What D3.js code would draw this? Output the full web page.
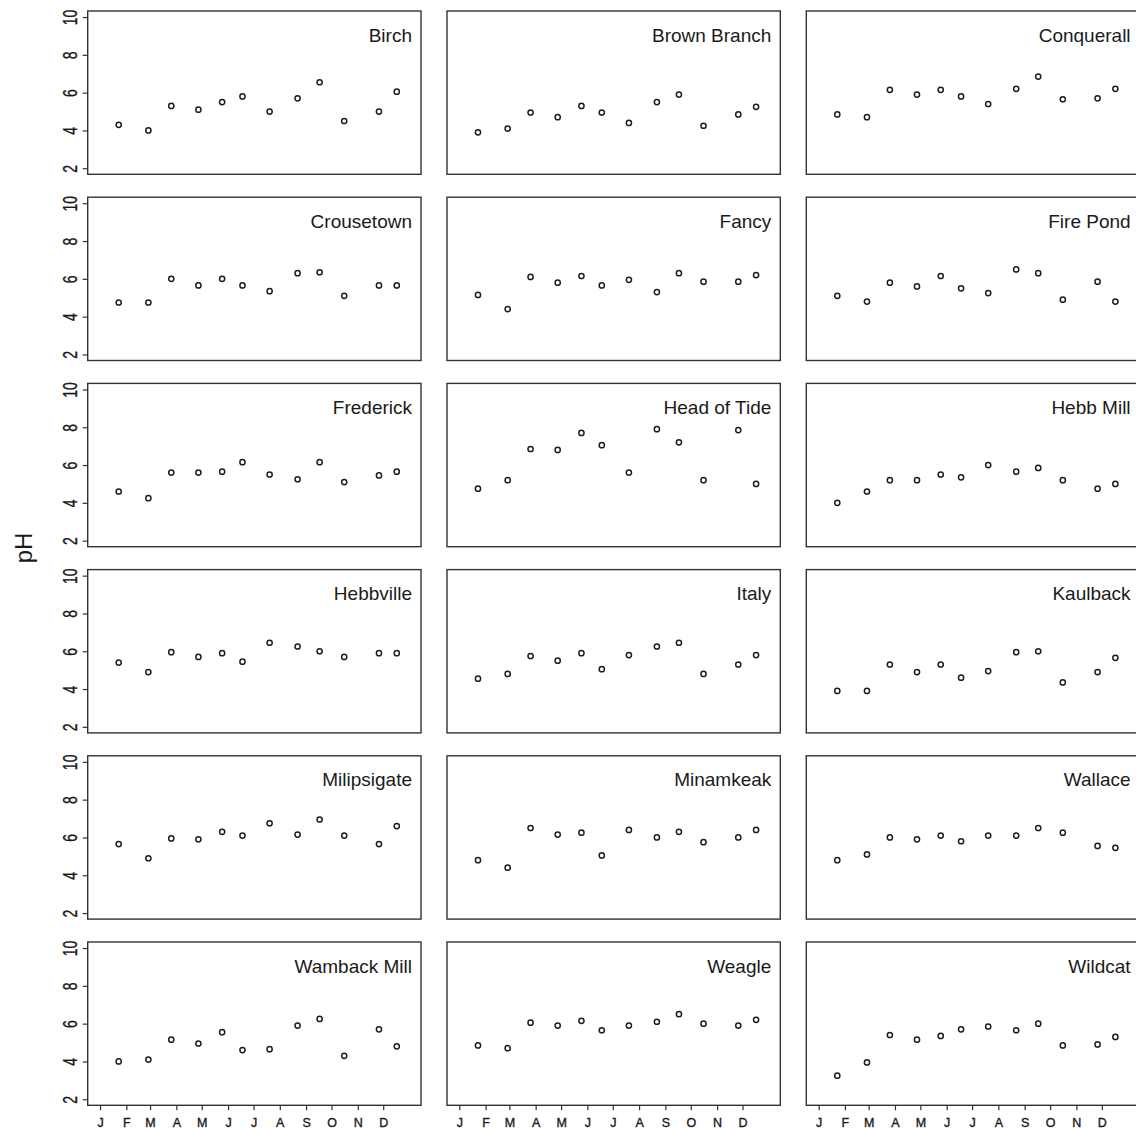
<!DOCTYPE html>
<html><head><meta charset="utf-8">
<script src="https://cdn.jsdelivr.net/npm/d3@7"></script>
<style>
body{margin:0;background:#fff}
svg{display:block}
text{font-family:"Liberation Sans",Arial,Helvetica,sans-serif;fill:#1a1a1a}
</style>
</head><body>
<svg id="chart" width="1136" height="1129"></svg>
<script>
// ---------- data ----------
const sites = ["Birch","Brown Branch","Conquerall","Crousetown","Fancy","Fire Pond",
  "Frederick","Head of Tide","Hebb Mill","Hebbville","Italy","Kaulback",
  "Milipsigate","Minamkeak","Wallace","Wamback Mill","Weagle","Wildcat"];
const sampleDates = ["2009-01-23","2009-02-27","2009-03-26","2009-04-27","2009-05-25","2009-06-18",
  "2009-07-20","2009-08-22","2009-09-17","2009-10-16","2009-11-26","2009-12-17"];
const monthLabels = ["J","F","M","A","M","J","J","A","S","O","N","D"];
const yTicks = [2,4,6,8,10];

const phBirch       = [4.3, 4.0, 5.3, 5.1, 5.5, 5.8, 5.0, 5.7, 6.55, 4.5, 5.0, 6.05];
const phBrownBranch = [3.9, 4.1, 4.95, 4.7, 5.3, 4.95, 4.4, 5.5, 5.9, 4.25, 4.85, 5.25];
const phConquerall  = [4.85, 4.7, 6.15, 5.9, 6.15, 5.8, 5.4, 6.2, 6.85, 5.65, 5.7, 6.2];
const phCrousetown  = [4.75, 4.75, 6.0, 5.65, 6.0, 5.65, 5.35, 6.3, 6.35, 5.1, 5.65, 5.65];
const phFancy       = [5.15, 4.4, 6.1, 5.8, 6.15, 5.65, 5.95, 5.3, 6.3, 5.85, 5.85, 6.2];
const phFirePond    = [5.1, 4.8, 5.8, 5.6, 6.15, 5.5, 5.25, 6.5, 6.3, 4.9, 5.85, 4.8];
const phFrederick   = [4.6, 4.25, 5.6, 5.6, 5.65, 6.15, 5.5, 5.25, 6.15, 5.1, 5.45, 5.65];
const phHeadOfTide  = [4.75, 5.2, 6.85, 6.8, 7.7, 7.05, 5.6, 7.9, 7.2, 5.2, 7.85, 5.0];
const phHebbMill    = [4.0, 4.6, 5.2, 5.2, 5.5, 5.35, 6.0, 5.65, 5.85, 5.2, 4.75, 5.0];
const phHebbville   = [5.4, 4.9, 5.95, 5.7, 5.9, 5.45, 6.45, 6.25, 6.0, 5.7, 5.9, 5.9];
const phItaly       = [4.55, 4.8, 5.75, 5.5, 5.9, 5.05, 5.8, 6.25, 6.45, 4.8, 5.3, 5.8];
const phKaulback    = [3.9, 3.9, 5.3, 4.9, 5.3, 4.6, 4.95, 5.95, 6.0, 4.35, 4.9, 5.65];
const phMilipsigate = [5.65, 4.9, 5.95, 5.9, 6.3, 6.1, 6.75, 6.15, 6.95, 6.1, 5.65, 6.6];
const phMinamkeak   = [4.8, 4.4, 6.5, 6.15, 6.25, 5.05, 6.4, 6.0, 6.3, 5.75, 6.0, 6.4];
const phWallace     = [4.8, 5.1, 6.0, 5.9, 6.1, 5.8, 6.1, 6.1, 6.5, 6.25, 5.55, 5.45];
const phWambackMill = [4.0, 4.1, 5.15, 4.95, 5.55, 4.6, 4.65, 5.9, 6.25, 4.3, 5.7, 4.8];
const phWeagle      = [4.85, 4.7, 6.05, 5.9, 6.15, 5.65, 5.9, 6.1, 6.5, 6.0, 5.9, 6.2];
const phWildcat     = [3.25, 3.95, 5.4, 5.15, 5.35, 5.7, 5.85, 5.65, 6.0, 4.85, 4.9, 5.3];

const siteValues = [phBirch, phBrownBranch, phConquerall, phCrousetown, phFancy, phFirePond,
  phFrederick, phHeadOfTide, phHebbMill, phHebbville, phItaly, phKaulback,
  phMilipsigate, phMinamkeak, phWallace, phWambackMill, phWeagle, phWildcat];

// ---------- layout ----------
const svg = d3.select("#chart");
const nCols = 3, nRows = 6;
const left0 = 87.7, colStep = 359.3, top0 = 11, rowStep = 186.2;
const pw = 333.3, ph = 163.3;

const parse = d3.utcParse("%Y-%m-%d");
const dates = sampleDates.map(parse);
const yStart = Date.UTC(2009,0,1), yEnd = Date.UTC(2009,11,31);
const pad = (yEnd - yStart) * 0.04;
const x = d3.scaleUtc().domain([new Date(yStart - pad), new Date(yEnd + pad)]).range([0, pw]);
const ypad = (10 - 2) * 0.04;
const y = d3.scaleLinear().domain([2 - ypad, 10 + ypad]).range([ph, 0]);
const monthStarts = d3.utcMonth.range(new Date(yStart), new Date(yEnd));
const labelStretch = 1.4;

sites.forEach((name, i) => {
  const c = i % nCols, r = Math.floor(i / nCols);
  const g = svg.append("g").attr("transform", `translate(${left0 + c*colStep},${top0 + r*rowStep})`);
  const vals = siteValues[i];

  g.selectAll("circle").data(vals).join("circle")
    .attr("cx", (d, k) => x(dates[k]))
    .attr("cy", d => y(d))
    .attr("r", 2.6)
    .attr("fill", "none")
    .attr("stroke", "#1e1e1e")
    .attr("stroke-width", 1.5);

  g.append("rect").attr("x", 0).attr("y", 0).attr("width", pw).attr("height", ph)
    .attr("fill", "none").attr("stroke", "#333").attr("stroke-width", 1.4);

  g.append("text").attr("x", pw - 9).attr("y", 30.7)
    .attr("text-anchor", "end").style("font-size", "19px").text(name);

  if (c === 0) {
    const ya = g.append("g").call(d3.axisLeft(y).tickValues(yTicks).tickSize(5).tickSizeOuter(0));
    ya.select(".domain").remove();
    ya.selectAll(".tick line").attr("stroke", "#333").attr("stroke-width", 1.2);
    ya.selectAll(".tick text")
      .attr("transform", `rotate(-90) scale(1,${labelStretch})`)
      .attr("x", 0).attr("y", -10.6 / labelStretch).attr("dy", 0)
      .attr("text-anchor", "middle")
      .style("font-size", "14px").style("font-family", '"Liberation Sans",Arial,sans-serif')
      .style("fill", "#1a1a1a").style("stroke", "#1a1a1a").style("stroke-width", "0.25px");
  }
  if (r === nRows - 1) {
    const xa = g.append("g").attr("transform", `translate(0,${ph})`)
      .call(d3.axisBottom(x).tickValues(monthStarts).tickFormat((d, k) => monthLabels[k]).tickSize(5).tickSizeOuter(0));
    xa.select(".domain").remove();
    xa.selectAll(".tick line").attr("stroke", "#333").attr("stroke-width", 1.2);
    xa.selectAll(".tick text")
      .attr("y", 21.4).attr("dy", 0)
      .style("font-size", "12.5px").style("font-family", '"Liberation Sans",Arial,sans-serif')
      .style("fill", "#1a1a1a").style("stroke", "#1a1a1a").style("stroke-width", "0.35px");
  }
});

svg.append("text")
  .attr("transform", "translate(32,548) rotate(-90)")
  .attr("text-anchor", "middle")
  .style("font-size", "24px")
  .text("pH");
</script>
</body></html>
